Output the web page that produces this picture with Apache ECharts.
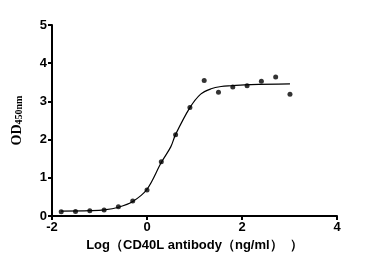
<!DOCTYPE html>
<html>
<head>
<meta charset="utf-8">
<script src="https://cdn.jsdelivr.net/npm/echarts@6/dist/echarts.min.js"></script>
<style>html,body{margin:0;padding:0;background:#fff}#c{width:381px;height:277px}</style>
</head>
<body>
<div id="c"></div>
<script>
// Measured points
const pointX = [-1.806, -1.505, -1.204, -0.903, -0.602, -0.301, 0, 0.301, 0.602, 0.903, 1.204, 1.505, 1.806, 2.107, 2.408, 2.709, 3.010];
const pointY = [0.11, 0.12, 0.14, 0.16, 0.24, 0.39, 0.68, 1.42, 2.13, 2.84, 3.55, 3.24, 3.38, 3.41, 3.53, 3.64, 3.19];
// Fitted curve
const curveX = [-1.81, -1.2, -0.9, -0.6, -0.3, 0, 0.3, 0.5, 0.6, 0.9, 1.13, 1.35, 1.56, 1.77, 2.19, 3.01];
const curveY = [0.13, 0.14, 0.16, 0.23, 0.38, 0.70, 1.40, 1.81, 2.13, 2.83, 3.19, 3.33, 3.39, 3.41, 3.44, 3.46];
const xTicks = [-2, 0, 2, 4];
const yTicks = [0, 1, 2, 3, 4, 5];

const chart = echarts.init(document.getElementById('c'));
const axisStyle = {color: '#000', width: 2};
const labelStyle = {color: '#000', fontFamily: 'Arial, Liberation Sans', fontWeight: 'bold', fontSize: 13};
chart.setOption({
  animation: false,
  grid: {left: 52, right: 44, top: 25, bottom: 61},
  xAxis: {
    type: 'value', min: xTicks[0], max: xTicks[xTicks.length - 1], interval: 2,
    splitLine: {show: false},
    axisLine: {show: true, lineStyle: axisStyle},
    axisTick: {show: true, length: 4, lineStyle: axisStyle},
    axisLabel: Object.assign({margin: 5}, labelStyle),
    name: 'Log（CD40L antibody（ng/ml）  ）',
    nameLocation: 'middle', nameGap: 22,
    nameTextStyle: {color: '#000', fontFamily: 'Arial, Liberation Sans', fontWeight: 'bold', fontSize: 13}
  },
  yAxis: {
    type: 'value', min: yTicks[0], max: yTicks[yTicks.length - 1], interval: 1,
    position: 'left',
    splitLine: {show: false},
    axisLine: {show: true, onZero: false, lineStyle: axisStyle},
    axisTick: {show: true, length: 4, lineStyle: axisStyle},
    axisLabel: Object.assign({margin: 5}, labelStyle),
    nameMoveOverlap: false,
    name: '{a|OD}{b|450nm}',
    nameLocation: 'middle', nameGap: 28, nameRotate: 90,
    nameTextStyle: {
      rich: {
        a: {color: '#000', fontFamily: 'Times New Roman, Liberation Serif', fontWeight: 'bold', fontSize: 14, verticalAlign: 'middle'},
        b: {color: '#000', fontFamily: 'Times New Roman, Liberation Serif', fontWeight: 'bold', fontSize: 10, verticalAlign: 'bottom'}
      }
    }
  },
  series: [
    {
      type: 'line', data: curveX.map((x, i) => [x, curveY[i]]),
      smooth: 0.35, showSymbol: false, symbol: 'none',
      lineStyle: {color: '#000', width: 1.2}, z: 2
    },
    {
      type: 'scatter', data: pointX.map((x, i) => [x, pointY[i]]),
      symbol: 'circle', symbolSize: 5, clip: false,
      itemStyle: {color: '#000'}, z: 3,
      markLine: {
        silent: true, animation: false,
        symbol: ['none', 'none'],
        label: {show: false},
        lineStyle: {color: '#000', width: 2, type: 'solid'},
        emphasis: {disabled: true},
        data: [[{coord: [xTicks[0], yTicks[0]]}, {coord: [xTicks[0], yTicks[yTicks.length - 1]]}]]
      }
    }
  ]
});
</script>
</body>
</html>
